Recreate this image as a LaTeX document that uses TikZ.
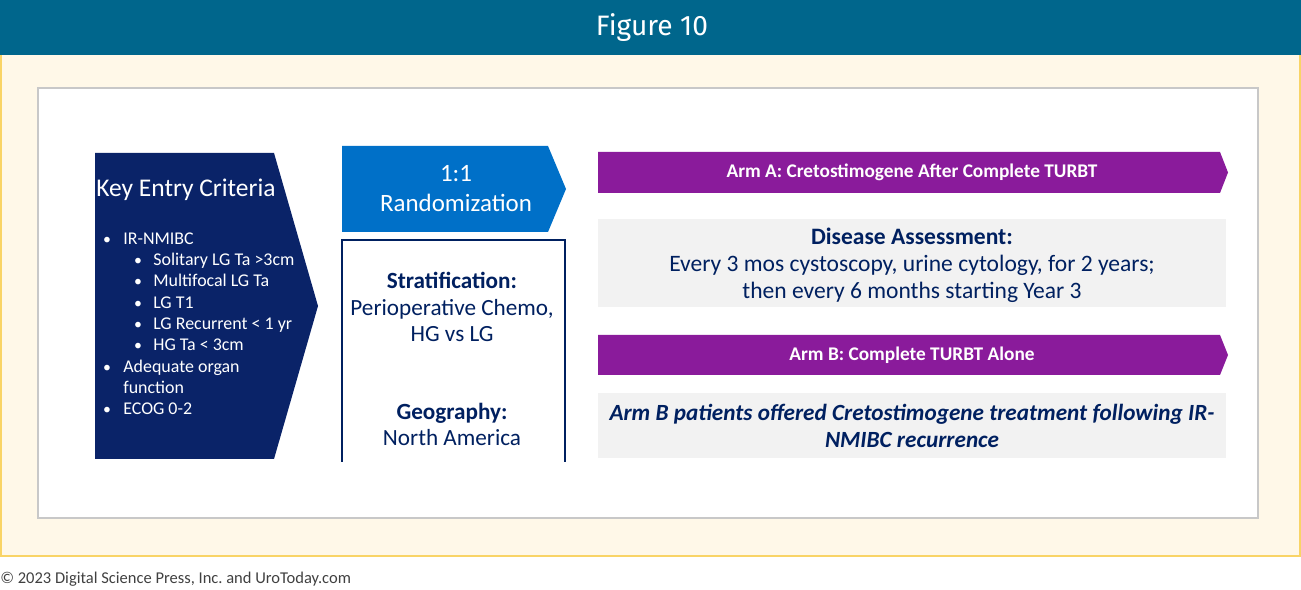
\documentclass[tikz,border=0pt]{standalone}
\usepackage{fontspec}
\setmainfont{Carlito}
\newfontfamily\headfont{Fira Sans}
\usetikzlibrary{positioning}
\definecolor{HeadTeal}{RGB}{0,102,140}
\definecolor{CreamBg}{RGB}{255,248,232}
\definecolor{GoldLine}{RGB}{249,212,102}
\definecolor{NavyBox}{RGB}{10,35,104}
\definecolor{NavyText}{RGB}{0,32,96}
\definecolor{RandBlue}{RGB}{0,112,200}
\definecolor{ArmPurple}{RGB}{138,27,155}
\definecolor{AssessGray}{RGB}{242,242,242}
\definecolor{FrameGray}{RGB}{200,200,200}
\tikzset{
  critline/.style={text=white,anchor=mid west,inner sep=0pt,
                   font=\fontsize{10.2}{12}\selectfont},
  critdot/.style={text=white,anchor=mid,inner sep=0pt,
                  font=\fontsize{9}{12}\selectfont},
  armtext/.style={text=white,font=\fontsize{11}{13}\selectfont\bfseries},
  assesstext/.style={text=NavyText,align=center,
                     font=\fontsize{13.4}{15.4}\selectfont},
  strattext/.style={text=NavyText,align=center,
                    font=\fontsize{13.2}{15}\selectfont},
}

\begin{document}
\begin{tikzpicture}[x=0.02cm,y=-0.02cm]
  \useasboundingbox (0,0) rectangle (1301,590);
  % page frame and header
  \fill[CreamBg] (0,55) rectangle (1301,557);
  \draw[GoldLine,line width=1.2pt] (1,55) -- (1,556) -- (1300,556) -- (1300,55);
  \fill[HeadTeal] (0,0) rectangle (1301,55);
  \node[text=white,font=\headfont\fontsize{16}{18}\selectfont] (title) at (652,28) {Figure 10};
  \draw[FrameGray,line width=0.8pt,fill=white] (38,88) rectangle (1258,518);

  % entry criteria
  \fill[NavyBox] (95,153) -- (274,153) -- (318,306) -- (274,459) -- (95,459) -- cycle;
  \node[critline,font=\fontsize{14.5}{16}\selectfont] (crithead) at (96,192) {Key Entry Criteria};
  \foreach \txt/\yy in {IR-NMIBC/240,Adequate organ/368,ECOG 0-2/410} {
    \node[critdot] (dot\yy) at (107,\yy) {•};
    \node[critline] (crit\yy) at (123,\yy) {\txt};
  }
  \node[critline] (crit389) at (123,389) {function};
  \foreach \txt/\yy in {Solitary LG Ta >3cm/261,Multifocal LG Ta/282,LG T1/304,
                        LG Recurrent < 1 yr/325,HG Ta < 3cm/346} {
    \node[critdot] (dot\yy) at (138,\yy) {•};
    \node[critline] (crit\yy) at (153,\yy) {\txt};
  }

  % randomization and stratification
  \fill[RandBlue] (342,146) -- (548,146) -- (566,189) -- (548,232) -- (342,232) -- cycle;
  \node[text=white,align=center,font=\fontsize{14.2}{17}\selectfont] (rand) at (456,189) {1:1\\Randomization};
  \draw[NavyText,line width=0.8pt] (342,462) -- (342,240) -- (565,240) -- (565,462);
  \node[strattext] (strat) at (452,307) {\textbf{Stratification:}\\Perioperative Chemo,\\HG vs LG};
  \node[strattext] (geo) at (452,424.5) {\textbf{Geography:}\\North America};

  % study arms
  \fill[ArmPurple] (598,152) -- (1220,152) -- (1228,172.5) -- (1220,193) -- (598,193) -- cycle;
  \node[armtext] (armA) at (912,172.5) {Arm A: Cretostimogene After Complete TURBT};
  \fill[AssessGray] (598,219) rectangle (1226,307);
  \node[assesstext] (assess) at (912,265) {\textbf{Disease Assessment:}\\Every 3 mos cystoscopy, urine cytology, for 2 years;\\then every 6 months starting Year 3};
  \fill[ArmPurple] (598,335) -- (1220,335) -- (1228,355) -- (1220,375) -- (598,375) -- cycle;
  \node[armtext] (armB) at (912,355) {Arm B: Complete TURBT Alone};
  \fill[AssessGray] (598,393) rectangle (1226,458);
  \node[assesstext,font=\fontsize{13.2}{15.4}\selectfont\bfseries\itshape] (offer) at (912,426) {Arm B patients offered Cretostimogene treatment following IR-\\NMIBC recurrence};

  \node[anchor=mid west,inner sep=0pt,text=black!75,font=\fontsize{9.4}{11}\selectfont] (copy) at (0,579) {© 2023 Digital Science Press, Inc.\ and UroToday.com};
\end{tikzpicture}
\end{document}
